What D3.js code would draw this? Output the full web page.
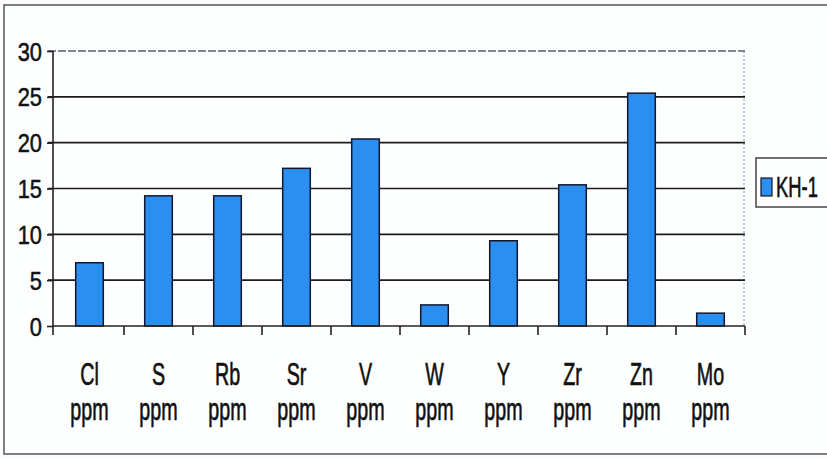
<!DOCTYPE html>
<html><head><meta charset="utf-8">
<script src="https://cdn.jsdelivr.net/npm/d3@7"></script>
<style>
html,body{margin:0;padding:0;background:#fbfcfe;}
svg{display:block;}
text{font-family:"Liberation Sans",Arial,sans-serif;fill:#111;stroke:#111;stroke-width:0.5px;}
</style></head>
<body>
<svg id="c" width="827" height="459"></svg>
<script>
const categories = ["Cl","S","Rb","Sr","V","W","Y","Zr","Zn","Mo"];
const unitLabel = "ppm";
const seriesName = "KH-1";
const values = [6.9, 14.2, 14.2, 17.2, 20.4, 2.3, 9.3, 15.4, 25.4, 1.4];
const yTicks = [0,5,10,15,20,25,30];

const svg = d3.select("#c");
const L = 53, R = 745, T = 51, B = 326;

// outer frame
svg.append("rect").attr("x",4).attr("y",5).attr("width",840).attr("height",449)
  .attr("fill","#fdfefe").attr("stroke","#555").attr("stroke-width",1.5);

const x = d3.scaleBand().domain(categories).range([55, R]).paddingInner(0.6).paddingOuter(0.3);
const y = d3.scaleLinear().domain([0,30]).range([B, T]);

// plot right border (faint dotted)
svg.append("line").attr("x1",R-1).attr("x2",R-1).attr("y1",T).attr("y2",B)
  .attr("stroke","#8a8fc0").attr("stroke-width",1).attr("stroke-dasharray","2,2");

// gridlines
svg.append("g").selectAll("line").data(yTicks.filter(d=>d>0)).join("line")
  .attr("x1",48).attr("x2",R).attr("y1",d=>y(d)).attr("y2",d=>y(d))
  .attr("stroke",d=>d===30?"#5a5a78":"#1c1c1c")
  .attr("stroke-width",d=>d===30?1.3:1.6)
  .attr("stroke-dasharray",d=>d===30?"8,2":null);

// y axis
const ya = svg.append("g").attr("transform",`translate(${L},0)`)
  .call(d3.axisLeft(y).tickValues(yTicks).tickSizeInner(6).tickSizeOuter(0).tickPadding(11));
ya.select(".domain").remove();
ya.append("line").attr("x1",0).attr("x2",0).attr("y1",T).attr("y2",B+9).attr("stroke","#222").attr("stroke-width",1.6);
ya.selectAll(".tick line").attr("stroke","#222").attr("stroke-width",1.6);
ya.selectAll(".tick text").attr("font-size",26).attr("fill","#111")
  .attr("x",null).attr("dy",null)
  .attr("transform","translate(-11,9) scale(0.84,1)");

// bars
svg.append("g").selectAll("rect").data(values).join("rect")
  .attr("x",(d,i)=>x(categories[i])).attr("width",x.bandwidth())
  .attr("y",d=>y(d)).attr("height",d=>B-y(d))
  .attr("fill","#2b8ff0").attr("stroke","#15152e").attr("stroke-width",1.5);

// x axis line
svg.append("line").attr("x1",L).attr("x2",R).attr("y1",B).attr("y2",B).attr("stroke","#222").attr("stroke-width",1.6);
// category boundary ticks
const gap = (x.step()-x.bandwidth())/2;
const bounds = categories.map(c=>x(c)-gap).concat([R]);
svg.append("g").selectAll("line").data(bounds.slice(1)).join("line")
  .attr("x1",d=>d).attr("x2",d=>d).attr("y1",B).attr("y2",B+9)
  .attr("stroke","#222").attr("stroke-width",1.6);

// category labels
const lab = svg.append("g");
categories.forEach((c,i)=>{
  const cx = x(c)+x.bandwidth()/2;
  lab.append("text").attr("text-anchor","middle").attr("font-size",24)
    .attr("transform",`translate(${cx},385) scale(0.82,1.3)`).text(c);
  lab.append("text").attr("text-anchor","middle").attr("font-size",24)
    .attr("transform",`translate(${cx},420) scale(0.82,1.3)`).text(unitLabel);
});

// legend
const lg = svg.append("g");
lg.append("rect").attr("x",756).attr("y",158).attr("width",100).attr("height",49)
  .attr("fill","#fdfefe").attr("stroke","#444").attr("stroke-width",1.5);
lg.append("rect").attr("x",761).attr("y",178).attr("width",11).attr("height",18)
  .attr("fill","#2b8ff0").attr("stroke","#15152e").attr("stroke-width",1.2);
lg.append("text").attr("font-size",23).attr("transform","translate(776,197) scale(0.8,1.3)").text(seriesName);
</script>
</body></html>
